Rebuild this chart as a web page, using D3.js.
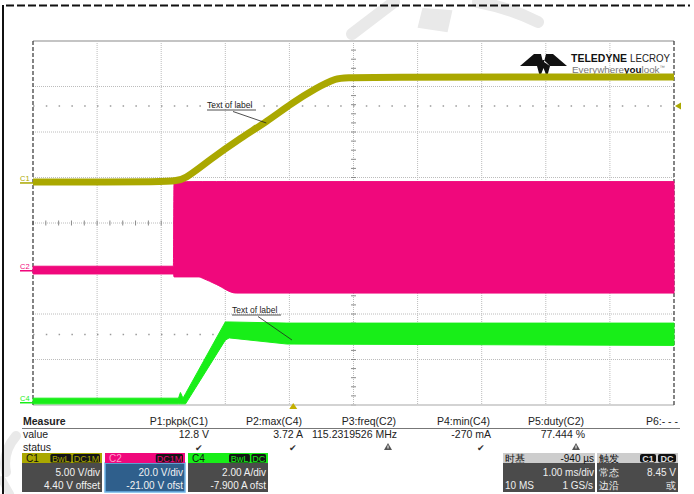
<!DOCTYPE html>
<html>
<head>
<meta charset="utf-8">
<script src="https://cdn.jsdelivr.net/npm/d3@7"></script>
<style>
  body { margin: 0; background: #fff; }
  text { font-family: "Liberation Sans", Arial, sans-serif; }
</style>
</head>
<body>
<script>
var width = 694;
var height = 494;

// time in ms, relative to the trigger point
var c1Time  = [-4.06, -1.89, -1.70, -1.31, -0.80, -0.42, -0.02, 0.36, 0.67, 0.87, 5.94];
var c1Volts = [0.1, 0.1, 0.33, 2.52, 5.05, 6.70, 8.79, 10.44, 11.53, 11.64, 11.64];

// C2 switching node drawn as min/max envelope
var c2Time = [-4.06, -1.87, -1.86, -1.47, -1.42, -1.20, -0.89, 5.94];
var c2Low  = [-1.4, -1.4, -2.7, -2.7, -3.2, -6.0, -9.8, -9.8];
var c2High = [2.0, 2.0, 39.0, 39.2, 39.2, 39.2, 39.2, 39.2];

// C4 current envelope (A)
var c4Time = [-4.06, -1.79, -1.76, -1.72, -1.68, -1.06, -1.00, -0.10, 5.94];
var c4Low  = [-0.05, -0.05, -0.05, -0.05, -0.05, 2.75, 2.85, 2.58, 2.52];
var c4High = [0.2, 0.2, 0.45, 0.2, 0.4, 3.55, 3.55, 3.5, 3.5];

var channelNames = ['C1', 'C2', 'C4'];
var voltsPerDiv = [5, 20, 2];
var offsets = [4.40, -21.00, -7.900];
var perDivText = ['5.00 V/div', '20.0 V/div', '2.00 A/div'];
var offsetText = ['4.40 V offset', '-21.00 V ofst', '-7.900 A ofst'];
var channelTags = [['BwL', 'DC1M'], ['DC1M'], ['BwL', 'DC']];
var colors = ['#aaa800', '#f0087c', '#18ee18'];

// dotted level lines: trigger level on C1, reference on C4
var levelChannel = [0, 2];
var levelValue = [8.45, 3.0];

var measureLabels = ['P1:pkpk(C1)', 'P2:max(C4)', 'P3:freq(C2)', 'P4:min(C4)', 'P5:duty(C2)', 'P6:- - -'];
var measureValues = ['12.8 V', '3.72 A', '115.2319526 MHz', '-270 mA', '77.444 %', ''];
var measureStatus = ['ok', 'ok', 'warn', 'ok', 'warn', ''];

var labelTime = [-0.42, -0.02];
var labelChannel = [0, 2];
var labelText = ['Text of label', 'Text of label'];

var svg = d3.select('body').append('svg')
  .attr('width', width)
  .attr('height', height);

// ---- watermark (faint)
var wm = svg.append('g').attr('fill', 'none').attr('stroke', '#e9e9e9').attr('stroke-linecap', 'round');
wm.append('path').attr('d', 'M352,34 L394,2').attr('stroke-width', 12);
wm.append('path').attr('d', 'M424,10 L450,12 L446,30 L420,26 Z').attr('fill', '#e9e9e9').attr('stroke-width', 4);
wm.append('path').attr('d', 'M478,2 Q510,8 538,22').attr('stroke-width', 12);
wm.append('path').attr('d', 'M16,436 Q2,452 6,472').attr('stroke-width', 10);
wm.append('path').attr('d', 'M2,480 L10,494').attr('stroke-width', 8);

// ---- outer frame
svg.append('line').attr('x1', 6).attr('x2', 690).attr('y1', 5.5).attr('y2', 5.5)
  .attr('stroke', '#111').attr('stroke-width', 2).attr('stroke-dasharray', '8,3');
svg.append('line').attr('x1', 3).attr('x2', 3).attr('y1', 5).attr('y2', height)
  .attr('stroke', '#111').attr('stroke-width', 2);

// ---- scales
var x = d3.scaleLinear().domain([-4.06, 5.94]).range([33, 674]);
var xDiv = d3.scaleLinear().domain([0, 10]).range([33, 674]);
var yDiv = d3.scaleLinear().domain([-4, 4]).range([405, 41]);

function chanY(i) {
  return function(v) { return yDiv((v + offsets[i]) / voltsPerDiv[i]); };
}

// ---- grid
var grid = svg.append('g');
grid.selectAll('.vg').data(d3.range(1, 10)).enter().append('line')
  .attr('x1', d => xDiv(d)).attr('x2', d => xDiv(d))
  .attr('y1', yDiv(4)).attr('y2', yDiv(-4))
  .attr('stroke', '#bcbcbc').attr('stroke-width', 1).attr('stroke-dasharray', '1,1');
grid.selectAll('.hg').data(d3.range(-3, 4)).enter().append('line')
  .attr('x1', xDiv(0)).attr('x2', xDiv(10))
  .attr('y1', d => yDiv(d)).attr('y2', d => yDiv(d))
  .attr('stroke', '#bcbcbc').attr('stroke-width', 1).attr('stroke-dasharray', '1,1');

// minor ticks on the centre axes
grid.selectAll('.tx').data(d3.range(0, 50)).enter().append('line')
  .attr('x1', d => xDiv(d / 5)).attr('x2', d => xDiv(d / 5))
  .attr('y1', yDiv(0) - 2.5).attr('y2', yDiv(0) + 2.5)
  .attr('stroke', '#8a8a8a');
grid.selectAll('.ty').data(d3.range(-20, 21)).enter().append('line')
  .attr('x1', xDiv(5) - 2.5).attr('x2', xDiv(5) + 2.5)
  .attr('y1', d => yDiv(d / 5)).attr('y2', d => yDiv(d / 5))
  .attr('stroke', '#8a8a8a');

// top / bottom border
grid.append('line').attr('x1', xDiv(0)).attr('x2', xDiv(10)).attr('y1', yDiv(4)).attr('y2', yDiv(4))
  .attr('stroke', '#c4c4c4').attr('stroke-width', 2);
grid.append('line').attr('x1', xDiv(0)).attr('x2', xDiv(10)).attr('y1', yDiv(-4)).attr('y2', yDiv(-4))
  .attr('stroke', '#c4c4c4').attr('stroke-width', 1.5);
// left / right edges with ticks
[0, 10].forEach(function(d) {
  grid.append('line').attr('x1', xDiv(d)).attr('x2', xDiv(d)).attr('y1', yDiv(4)).attr('y2', yDiv(-4))
    .attr('stroke', '#333').attr('stroke-width', 1.2).attr('stroke-dasharray', '4,2');
});

// level lines (sparse dots)
levelValue.forEach(function(v, i) {
  grid.append('line')
    .attr('x1', xDiv(0)).attr('x2', xDiv(10))
    .attr('y1', chanY(levelChannel[i])(v)).attr('y2', chanY(levelChannel[i])(v))
    .attr('stroke', '#9a9a9a').attr('stroke-width', 1.5).attr('stroke-dasharray', '1.5,11.3');
});

// ---- logo
var logo = svg.append('g');
logo.append('path').attr('fill', '#111')
  .attr('d', 'M520,66 L534,54 L541,54 L543,62 L537,66 Z M567,66 L553,54 L546,54 L544,62 L550,66 Z' +
             ' M537,66 L543,60 L544,60 L550,66 L547,77 L543.5,68 L540,77 Z');
logo.append('text').attr('x', 571).attr('y', 62).attr('font-size', 11).attr('fill', '#111')
  .attr('font-weight', 'bold').attr('textLength', 56).attr('lengthAdjust', 'spacingAndGlyphs')
  .text('TELEDYNE');
logo.append('text').attr('x', 630).attr('y', 62).attr('font-size', 11).attr('fill', '#222')
  .attr('textLength', 40).attr('lengthAdjust', 'spacingAndGlyphs')
  .text('LECROY');
var t2 = logo.append('text').attr('x', 572).attr('y', 73).attr('font-size', 9).attr('fill', '#777')
  .attr('textLength', 93).attr('lengthAdjust', 'spacingAndGlyphs');
t2.append('tspan').text('Everywhere');
t2.append('tspan').attr('font-weight', 'bold').attr('fill', '#111').text('you');
t2.append('tspan').text('look');
t2.append('tspan').attr('font-size', 5).attr('dy', -4).text('™');

// ---- traces
var c2Area = d3.area()
  .x((d, i) => x(c2Time[i]))
  .y0((d, i) => chanY(1)(c2Low[i]))
  .y1((d, i) => chanY(1)(c2High[i]))
  .curve(d3.curveMonotoneX);
svg.append('path').datum(c2Time).attr('d', c2Area).attr('fill', colors[1])
  .attr('stroke', colors[1]).attr('stroke-width', 1);

var c4Area = d3.area()
  .x((d, i) => x(c4Time[i]))
  .y0((d, i) => chanY(2)(c4Low[i]))
  .y1((d, i) => chanY(2)(c4High[i]));
svg.append('path').datum(c4Time).attr('d', c4Area).attr('fill', colors[2])
  .attr('stroke', colors[2]).attr('stroke-width', 1);

var c1Line = d3.line()
  .x((d, i) => x(c1Time[i]))
  .y((d, i) => chanY(0)(c1Volts[i]))
  .curve(d3.curveBasis);
svg.append('path').datum(c1Time).attr('d', c1Line).attr('fill', 'none')
  .attr('stroke', colors[0]).attr('stroke-width', 7);

// channel ground markers on the left
channelNames.forEach(function(name, i) {
  var gy = chanY(i)(0);
  svg.append('line').attr('x1', 20).attr('x2', 33).attr('y1', gy).attr('y2', gy)
    .attr('stroke', colors[i]).attr('stroke-width', 1.5);
  svg.append('text').attr('x', 20).attr('y', gy - 2).attr('font-size', 7.5)
    .attr('fill', colors[i]).text(name);
});

// trigger markers
svg.append('path').attr('fill', '#c4b000')
  .attr('d', 'M' + x(0) + ',403 l4,6 l-8,0 Z');
svg.append('path').attr('fill', '#aaa800')
  .attr('d', 'M675,' + chanY(0)(8.45) + ' l6,-3.5 l0,7 Z');

// ---- annotation labels
labelText.forEach(function(txt, i) {
  var tx = x(labelTime[i]);
  var ty = labelChannel[i] === 0 ? chanY(0)(c1Volts[5]) + 1 : 340;
  var lx = i === 0 ? 207 : 232;
  var ly = i === 0 ? 108 : 313;
  svg.append('text').attr('x', lx).attr('y', ly).attr('font-size', 8.5).attr('fill', '#222').text(txt);
  svg.append('line').attr('x1', lx).attr('x2', lx + 49).attr('y1', ly + 2).attr('y2', ly + 2)
    .attr('stroke', '#222').attr('stroke-width', 0.8);
  svg.append('line').attr('x1', lx + 26).attr('y1', ly + 3.5).attr('x2', tx).attr('y2', ty)
    .attr('stroke', '#222').attr('stroke-width', 0.8);
});

// ---- measure table
var mt = svg.append('g').attr('font-size', 10.5).attr('fill', '#222');
var colRight = d3.scaleLinear().domain([0, 5]).range([208, 678]);
mt.append('text').attr('x', 23).attr('y', 425).attr('font-weight', 'bold').text('Measure');
mt.append('text').attr('x', 23).attr('y', 438).text('value');
mt.append('text').attr('x', 23).attr('y', 451).text('status');
mt.append('line').attr('x1', 22).attr('x2', 680).attr('y1', 428.5).attr('y2', 428.5)
  .attr('stroke', '#777').attr('stroke-width', 1);
measureLabels.forEach(function(lbl, i) {
  var rx = colRight(i);
  mt.append('text').attr('x', rx).attr('y', 425).attr('text-anchor', 'end').text(lbl);
  mt.append('text').attr('x', rx + 1).attr('y', 438).attr('text-anchor', 'end').text(measureValues[i]);
  if (measureStatus[i] === 'ok') {
    mt.append('text').attr('x', rx - 5).attr('y', 451).attr('text-anchor', 'end')
      .attr('font-family', 'DejaVu Sans').attr('font-size', 9).attr('fill', '#333').text('\u2714');
  } else if (measureStatus[i] === 'warn') {
    mt.append('path').attr('fill', '#555')
      .attr('d', 'M' + (rx - 8) + ',443 l4,7 l-8,0 Z');
    mt.append('rect').attr('x', rx - 8.5).attr('y', 445.5).attr('width', 1).attr('height', 3).attr('fill', '#fff');
  }
});

// ---- channel boxes
var boxX = [22, 105, 188];
channelNames.forEach(function(name, i) {
  var bx = boxX[i], bw = 80;
  var g = svg.append('g');
  var body = i === 1 ? '#2f5f8c' : '#4b4b4b';
  g.append('rect').attr('x', bx).attr('y', 463).attr('width', bw).attr('height', 29).attr('fill', body)
    .attr('stroke', i === 1 ? '#6fb4e8' : 'none').attr('stroke-width', 1.5);
  g.append('rect').attr('x', bx).attr('y', 453).attr('width', bw).attr('height', 10).attr('fill', colors[i]);
  g.append('text').attr('x', bx + 4).attr('y', 462).attr('font-size', 10)
    .attr('fill', i === 1 ? '#ff9ccc' : '#111').text(name);
  var tags = channelTags[i];
  var right = bx + bw - 2;
  for (var k = tags.length - 1; k >= 0; k--) {
    var tw = tags[k].length * 6.3 + 2;
    g.append('rect').attr('x', right - tw).attr('y', 454).attr('width', tw).attr('height', 8.5)
      .attr('rx', 1.5).attr('fill', '#151515');
    g.append('text').attr('x', right - tw / 2).attr('y', 461.5).attr('text-anchor', 'middle')
      .attr('font-size', 9).attr('fill', colors[i]).text(tags[k]);
    right -= tw + 1.5;
  }
  g.append('text').attr('x', bx + bw - 2).attr('y', 476).attr('text-anchor', 'end')
    .attr('font-size', 10).attr('fill', '#f2f2f2').text(perDivText[i]);
  g.append('text').attr('x', bx + bw - 2).attr('y', 489).attr('text-anchor', 'end')
    .attr('font-size', 10).attr('fill', '#f2f2f2').text(offsetText[i]);
});

// ---- timebase & trigger boxes
var cjk = '"Noto Sans CJK SC", sans-serif';
var tb = svg.append('g').attr('font-size', 10);
tb.append('rect').attr('x', 503).attr('y', 453).attr('width', 92).attr('height', 39).attr('fill', '#4b4b4b');
tb.append('rect').attr('x', 503).attr('y', 453).attr('width', 92).attr('height', 10).attr('fill', '#cdcdcd');
tb.append('text').attr('x', 505).attr('y', 462).attr('font-family', cjk).attr('fill', '#111').text('时基');
tb.append('text').attr('x', 594).attr('y', 462).attr('text-anchor', 'end').attr('fill', '#111').text('-940 µs');
tb.append('text').attr('x', 594).attr('y', 476).attr('text-anchor', 'end').attr('fill', '#eee').text('1.00 ms/div');
tb.append('text').attr('x', 505).attr('y', 489).attr('fill', '#eee').text('10 MS');
tb.append('text').attr('x', 593).attr('y', 489).attr('text-anchor', 'end').attr('fill', '#eee').text('1 GS/s');

tb.append('rect').attr('x', 597).attr('y', 453).attr('width', 81).attr('height', 39).attr('fill', '#4b4b4b');
tb.append('rect').attr('x', 597).attr('y', 453).attr('width', 81).attr('height', 10).attr('fill', '#cdcdcd');
tb.append('text').attr('x', 599).attr('y', 462).attr('font-family', cjk).attr('fill', '#111').text('触发');
[['C1', 640, 16], ['DC', 658, 18]].forEach(function(t) {
  tb.append('rect').attr('x', t[1]).attr('y', 454).attr('width', t[2]).attr('height', 8.5).attr('rx', 2).attr('fill', '#111');
  tb.append('text').attr('x', t[1] + t[2] / 2).attr('y', 461.5).attr('text-anchor', 'middle')
    .attr('font-size', 9).attr('font-weight', 'bold').attr('fill', '#ddd').text(t[0]);
});
tb.append('text').attr('x', 599).attr('y', 476).attr('font-family', cjk).attr('fill', '#eee').text('常态');
tb.append('text').attr('x', 676).attr('y', 476).attr('text-anchor', 'end').attr('fill', '#eee').text('8.45 V');
tb.append('text').attr('x', 599).attr('y', 489).attr('font-family', cjk).attr('fill', '#eee').text('边沿');
tb.append('text').attr('x', 676).attr('y', 489).attr('text-anchor', 'end').attr('font-family', cjk).attr('fill', '#eee').text('或');
</script>
</body>
</html>
